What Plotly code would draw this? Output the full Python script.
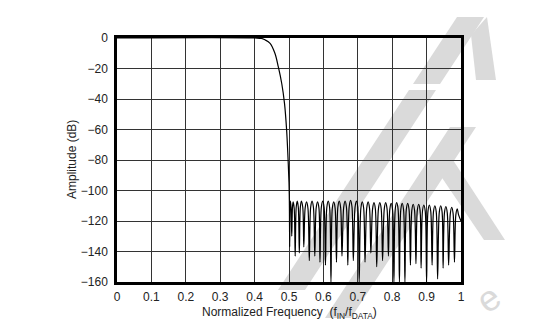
import plotly.graph_objects as go

# ---------------- data ----------------
pass_freq = [0.0, 0.40, 0.42, 0.43, 0.445, 0.459, 0.469, 0.479, 0.487, 0.493, 0.497, 0.500, 0.501]
pass_db = [0, 0, -0.3, -1.2, -3.5, -10, -19, -30, -43, -60, -78, -95, -106]

# stop-band lobes: notch at the left edge of each lobe, rising shoulder, peak, falling shoulder
notch_freq = [0.502, 0.508, 0.518, 0.530, 0.543, 0.559, 0.575, 0.590, 0.606, 0.622, 0.638,
              0.654, 0.671, 0.687, 0.704, 0.721, 0.738, 0.755, 0.772, 0.789, 0.805, 0.821,
              0.837, 0.853, 0.869, 0.884, 0.900, 0.916, 0.932, 0.948, 0.964, 0.981]
notch_db = [-137, -130, -143, -141, -137, -146, -143, -147, -149, -160, -147, -143, -149,
            -146, -160, -147, -141, -150, -146, -143, -160, -160, -160, -149, -148, -151,
            -160, -149, -158, -151, -149, -147]

rise_freq = [0.503, 0.510, 0.521, 0.533, 0.547, 0.563, 0.579, 0.594, 0.610, 0.626, 0.642,
             0.659, 0.675, 0.692, 0.709, 0.726, 0.743, 0.760, 0.777, 0.793, 0.809, 0.825,
             0.841, 0.857, 0.873, 0.888, 0.904, 0.920, 0.937, 0.952, 0.969, 0.985]

peak_freq = [0.504, 0.512, 0.524, 0.536, 0.551, 0.567, 0.583, 0.598, 0.614, 0.630, 0.646,
             0.663, 0.679, 0.696, 0.713, 0.730, 0.747, 0.764, 0.781, 0.797, 0.813, 0.829,
             0.845, 0.861, 0.877, 0.892, 0.908, 0.924, 0.941, 0.956, 0.973, 0.989]
peak_db = [-107, -107.5, -107, -107, -107.5, -107, -107.5, -107, -107, -107.5, -107,
           -107, -106.5, -107, -107.5, -107.5, -108, -108, -108, -108.5, -108, -108.5,
           -108.5, -109, -109, -109.5, -109.5, -110, -110, -110.5, -111, -112]

fall_freq = [0.506, 0.515, 0.527, 0.540, 0.555, 0.571, 0.587, 0.602, 0.618, 0.634, 0.650,
             0.667, 0.683, 0.700, 0.717, 0.734, 0.751, 0.768, 0.785, 0.801, 0.817, 0.833,
             0.849, 0.865, 0.881, 0.896, 0.912, 0.928, 0.945, 0.960, 0.977, 0.993]

shoulder_db = [-111, -111.5, -111, -111, -111.5, -111, -111.5, -111, -111, -111.5, -111,
               -111, -110.5, -111, -111.5, -111.5, -112, -112, -112, -112.5, -112, -112.5,
               -112.5, -113, -113, -113.5, -113.5, -114, -114, -114.5, -115, -116]

end_freq = [1.0]
end_db = [-120]

x_ticks = [0, 0.1, 0.2, 0.3, 0.4, 0.5, 0.6, 0.7, 0.8, 0.9, 1]
x_tick_text = ["0", "0.1", "0.2", "0.3", "0.4", "0.5", "0.6", "0.7", "0.8", "0.9", "1"]
y_ticks = [0, -20, -40, -60, -80, -100, -120, -140, -160]

# ---------------- assemble the trace ----------------
xs = list(pass_freq)
ys = list(pass_db)
for nf, nd, rf, pf, pd_, ff, sd in zip(notch_freq, notch_db, rise_freq, peak_freq,
                                        peak_db, fall_freq, shoulder_db):
    xs += [nf, rf, pf, ff]
    ys += [nd, sd, pd_, sd]
xs += end_freq
ys += end_db

W, H = 539, 327
L, R, T, B = 117, 461, 38, 282  # plot area in pixels
FONT = "Liberation Sans, Arial, sans-serif"


def px(x, y):
    return (x - L) / (R - L), (B - y) / (B - T)


def poly(points):
    pts = [px(*p) for p in points]
    d = "M " + " L ".join(f"{a:.4f},{b:.4f}" for a, b in pts) + " Z"
    return dict(type="path", path=d, xref="paper", yref="paper",
                fillcolor="#dadada", line=dict(width=0), layer="below")


# faint background watermark (decoration)
wm = [
    [(278, 290), (305, 290), (436, 90), (409, 90)],
    [(413, 84), (440, 84), (484, 17), (457, 17)],
    [(471, 35), (487, 17), (496, 80), (476, 80)],
    [(450, 127), (476, 127), (351, 318), (325, 318)],
    [(430, 160), (453, 160), (505, 240), (484, 240)],
]
shapes = [poly(p) for p in wm]

fig = go.Figure()
fig.add_trace(go.Scatter(x=xs, y=ys, mode="lines",
                         line=dict(color="black", width=1.2, shape="spline", smoothing=1.0),
                         hoverinfo="skip", showlegend=False))

axis_common = dict(showgrid=True, gridcolor="#333333", gridwidth=1, zeroline=False,
                   showline=True, linecolor="black", linewidth=2.5, mirror=True,
                   ticks="", tickfont=dict(family=FONT, size=12, color="#222"))

fig.update_layout(
    width=W, height=H,
    margin=dict(l=L, r=W - R, t=T, b=H - B, pad=0),
    paper_bgcolor="white", plot_bgcolor="rgba(0,0,0,0)",
    xaxis=dict(range=[0, 1], tickvals=x_ticks, ticktext=x_tick_text,
               ticklabelstandoff=2, **axis_common),
    yaxis=dict(range=[-160, 0], tickvals=y_ticks, ticklabelstandoff=4, **axis_common),
    shapes=shapes,
    annotations=[
        dict(text="Amplitude (dB)", xref="paper", yref="paper",
             x=(72 - L) / (R - L), y=0.5, textangle=-90, showarrow=False,
             font=dict(family=FONT, size=12, color="#222"),
             xanchor="center", yanchor="middle"),
        dict(text="Normalized Frequency  (f<sub>IN</sub>/f<sub>DATA</sub>)", xref="paper", yref="paper",
             x=0.5, y=(B - 313) / (B - T), showarrow=False,
             font=dict(family=FONT, size=12, color="#222"),
             xanchor="center", yanchor="middle"),
        dict(text="e", xref="paper", yref="paper", x=(488 - L) / (R - L), y=(B - 298) / (B - T),
             showarrow=False, textangle=-35,
             font=dict(family=FONT, size=36, color="#dadada"),
             xanchor="center", yanchor="middle"),
    ],
)

fig.write_html("out.html")
